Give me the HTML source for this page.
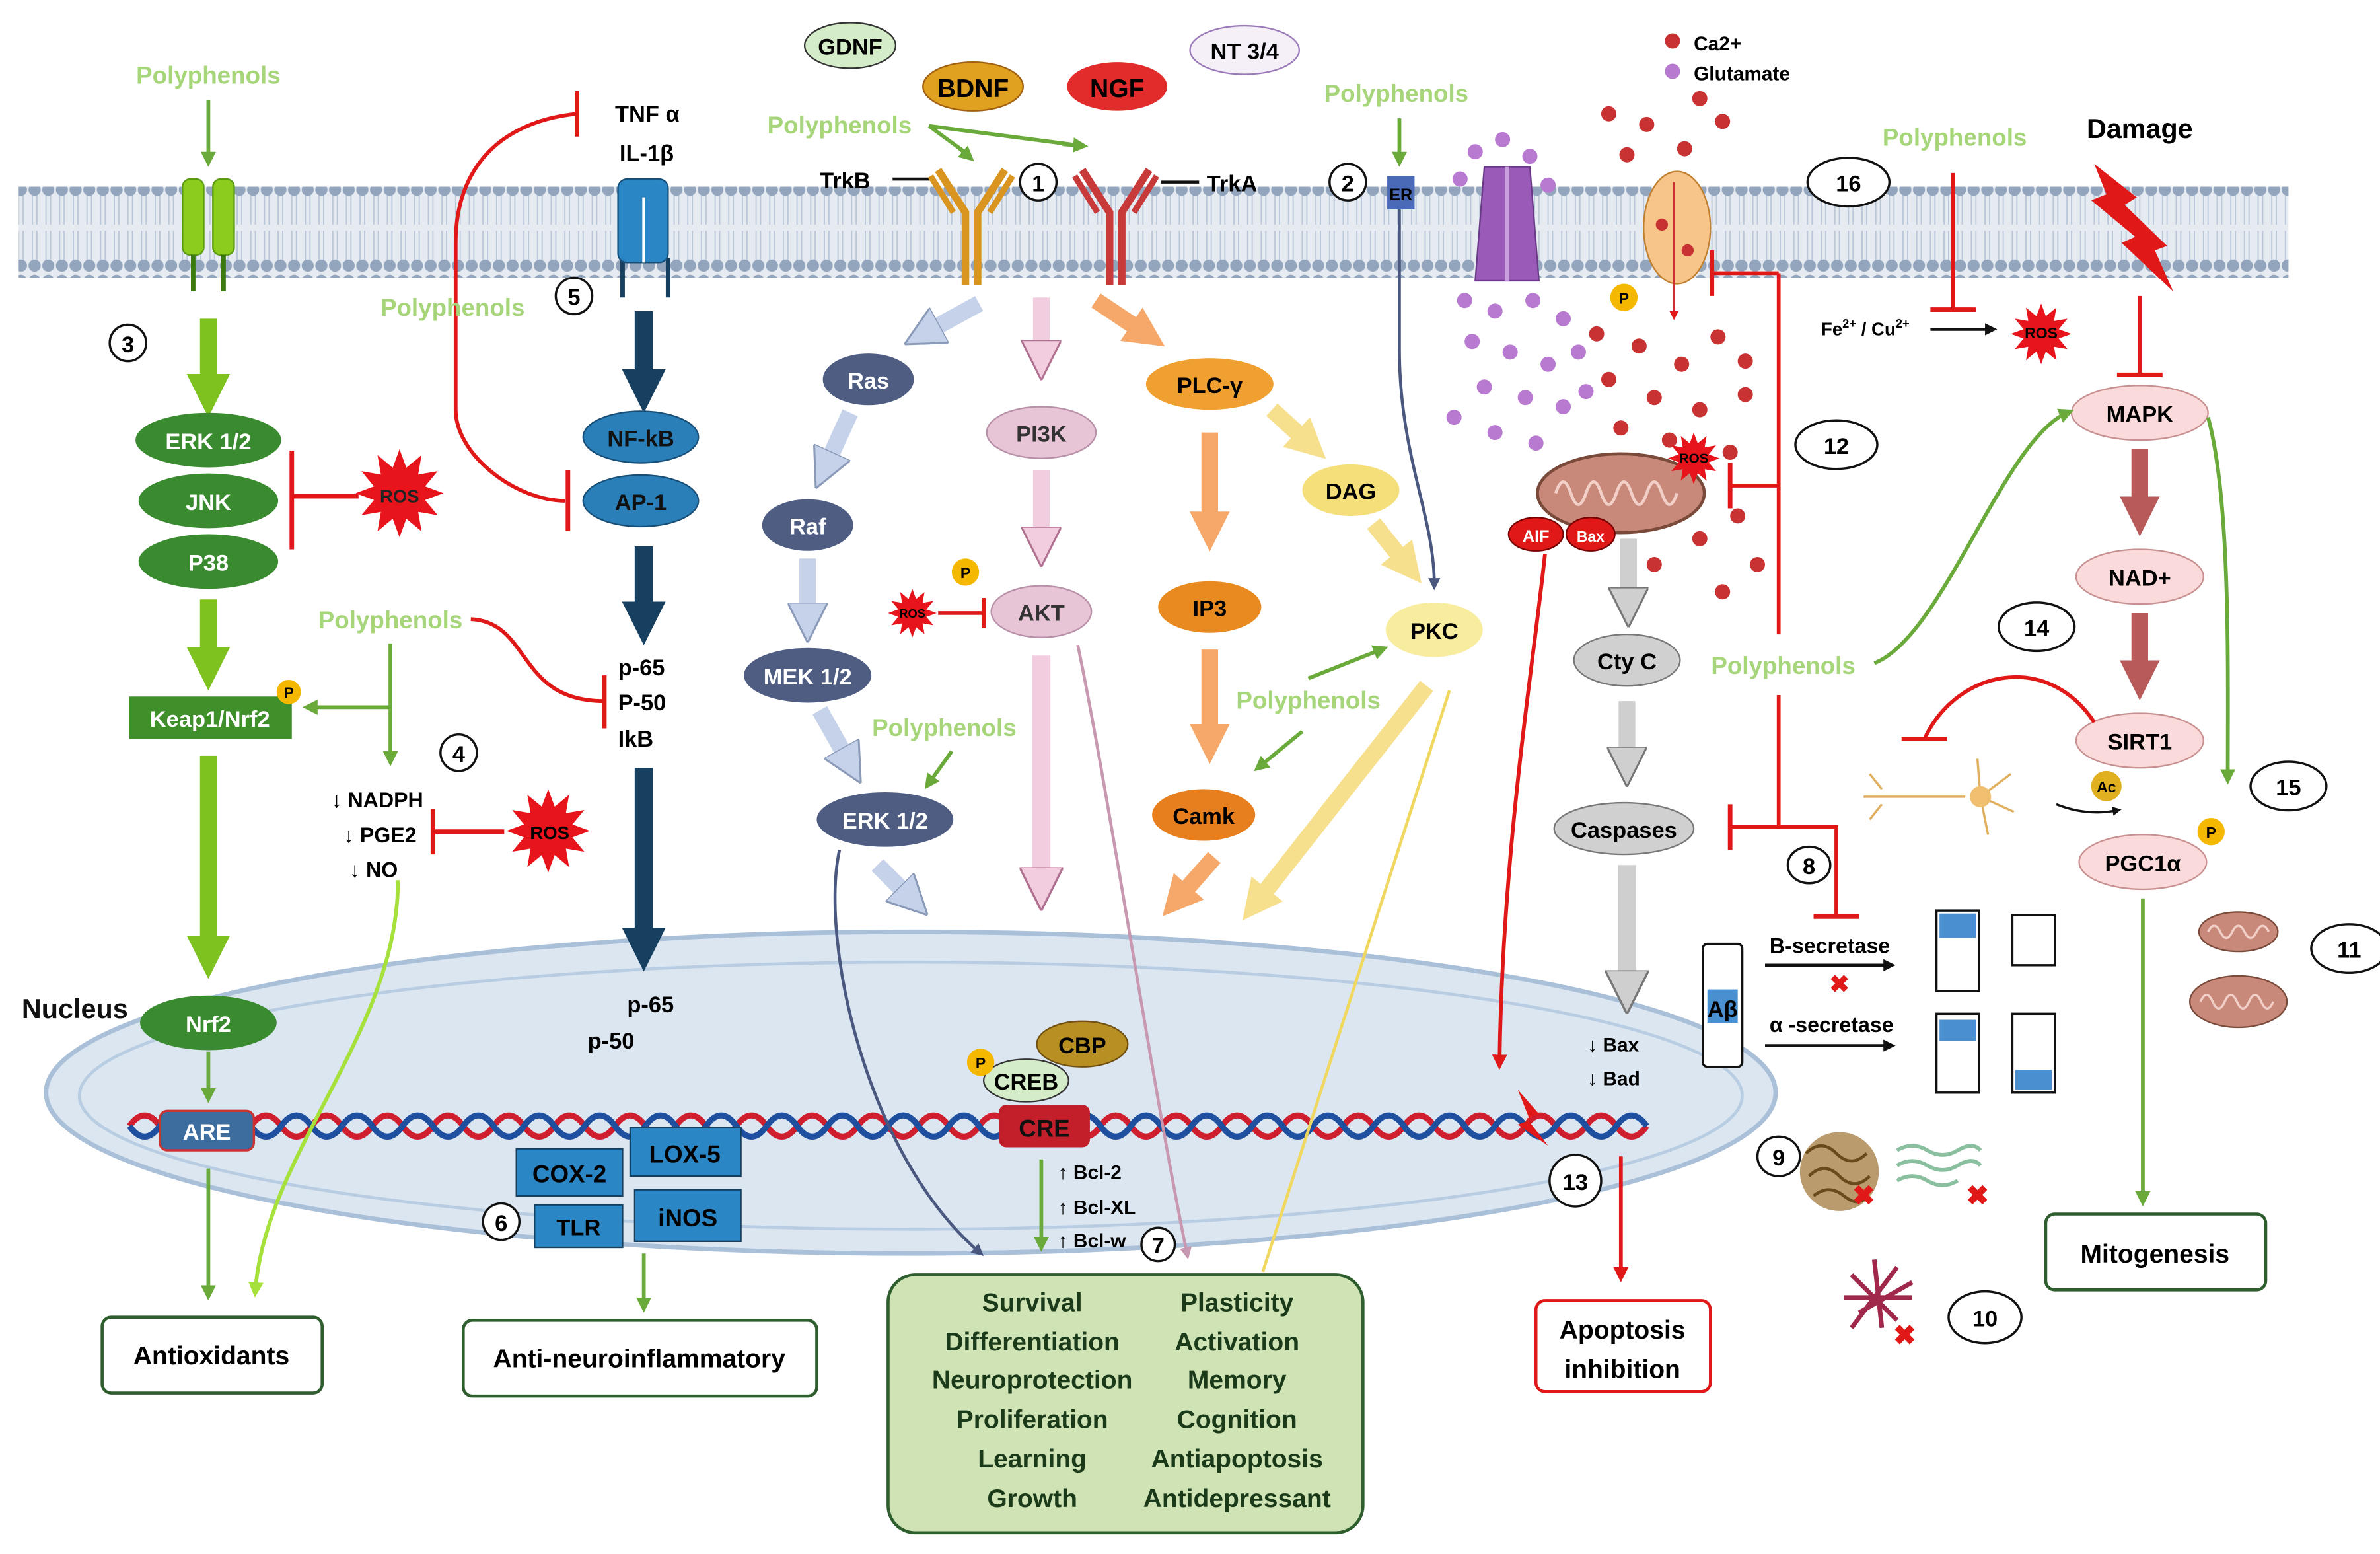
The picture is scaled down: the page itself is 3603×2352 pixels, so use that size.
<!DOCTYPE html>
<html><head><meta charset="utf-8"><style>
html,body{margin:0;padding:0;background:#fff}
svg{display:block}
text{font-family:"Liberation Sans",sans-serif;font-weight:bold}
</style></head><body>
<svg width="3603" height="2352" viewBox="0 0 1568 1024" xmlns="http://www.w3.org/2000/svg">
<defs>
<pattern id="lip" x="0" y="0" width="9" height="60" patternUnits="userSpaceOnUse">
<rect width="9" height="60" fill="#e6ebf2"/>
<path d="M3,5 L3,28 M6,5 L6,28 M3,32 L3,55 M6,32 L6,55" stroke="#b8c6d8" stroke-width="0.8"/>
<circle cx="4.5" cy="5" r="4" fill="#93a5bd"/><circle cx="4.5" cy="55" r="4" fill="#93a5bd"/>
</pattern>
<symbol id="star" viewBox="-1 -1 2 2"><polygon points="1,0 .58,.155 .866,.5 .424,.424 .5,.866 .155,.58 0,1 -.155,.58 -.5,.866 -.424,.424 -.866,.5 -.58,.155 -1,0 -.58,-.155 -.866,-.5 -.424,-.424 -.5,-.866 -.155,-.58 0,-1 .155,-.58 .5,-.866 .424,-.424 .866,-.5 .58,-.155" fill="#e8141c"/></symbol>
<marker id="mG" viewBox="0 0 10 10" refX="3" refY="5" markerWidth="2.6" markerHeight="2.6" orient="auto"><path d="M0,0L10,5L0,10z" fill="#7dc21e"/></marker>
<marker id="mN" viewBox="0 0 10 10" refX="3" refY="5" markerWidth="2.4" markerHeight="2.4" orient="auto"><path d="M0,0L10,5L0,10z" fill="#173f5f"/></marker>
<marker id="mB" viewBox="0 0 10 10" refX="3" refY="5" markerWidth="2.4" markerHeight="2.4" orient="auto"><path d="M0,0L10,5L0,10z" fill="#c5d2ea" stroke="#8a9ab8" stroke-width=".5"/></marker>
<marker id="mP" viewBox="0 0 10 10" refX="3" refY="5" markerWidth="2.4" markerHeight="2.4" orient="auto"><path d="M0,0L10,5L0,10z" fill="#f2cde0" stroke="#b07090" stroke-width=".5"/></marker>
<marker id="mO" viewBox="0 0 10 10" refX="3" refY="5" markerWidth="2.4" markerHeight="2.4" orient="auto"><path d="M0,0L10,5L0,10z" fill="#f5a86a"/></marker>
<marker id="mY" viewBox="0 0 10 10" refX="3" refY="5" markerWidth="2.4" markerHeight="2.4" orient="auto"><path d="M0,0L10,5L0,10z" fill="#f6e08e"/></marker>
<marker id="mS" viewBox="0 0 10 10" refX="3" refY="5" markerWidth="2.4" markerHeight="2.4" orient="auto"><path d="M0,0L10,5L0,10z" fill="#cfcfcf" stroke="#777" stroke-width=".5"/></marker>
<marker id="mR" viewBox="0 0 10 10" refX="3" refY="5" markerWidth="2.4" markerHeight="2.4" orient="auto"><path d="M0,0L10,5L0,10z" fill="#b85a5a"/></marker>
<marker id="tg" viewBox="0 0 10 10" refX="5" refY="5" markerWidth="4" markerHeight="4" orient="auto"><path d="M0,0L10,5L0,10z" fill="#6aaa3a"/></marker>
<marker id="tr" viewBox="0 0 10 10" refX="5" refY="5" markerWidth="4" markerHeight="4" orient="auto"><path d="M0,0L10,5L0,10z" fill="#e01818"/></marker>
<marker id="tk" viewBox="0 0 10 10" refX="5" refY="5" markerWidth="4" markerHeight="4" orient="auto"><path d="M0,0L10,5L0,10z" fill="#111"/></marker>
<marker id="tl" viewBox="0 0 10 10" refX="5" refY="5" markerWidth="4" markerHeight="4" orient="auto"><path d="M0,0L10,5L0,10z" fill="#a6e03a"/></marker>
<marker id="tn" viewBox="0 0 10 10" refX="5" refY="5" markerWidth="4" markerHeight="4" orient="auto"><path d="M0,0L10,5L0,10z" fill="#4a5880"/></marker>
<marker id="tp" viewBox="0 0 10 10" refX="5" refY="5" markerWidth="4" markerHeight="4" orient="auto"><path d="M0,0L10,5L0,10z" fill="#c898b0"/></marker>
<marker id="ty" viewBox="0 0 10 10" refX="5" refY="5" markerWidth="4" markerHeight="4" orient="auto"><path d="M0,0L10,5L0,10z" fill="#f0d860"/></marker>
</defs>

<rect x="12" y="123" width="1496" height="60" fill="url(#lip)"/>

<ellipse cx="600" cy="720" rx="570" ry="106" fill="#dbe6f1" stroke="#a9c0d8" stroke-width="3"/>
<ellipse cx="600" cy="722" rx="548" ry="88" fill="none" stroke="#b8cde2" stroke-width="2"/>
<text x="14" y="671" font-size="18" fill="#111">Nucleus</text>

<path d="M85,742 q10,-14 20,0 t20,0 t20,0 t20,0 t20,0 t20,0 t20,0 t20,0 t20,0 t20,0 t20,0 t20,0 t20,0 t20,0 t20,0 t20,0 t20,0 t20,0 t20,0 t20,0 t20,0 t20,0 t20,0 t20,0 t20,0 t20,0 t20,0 t20,0 t20,0 t20,0 t20,0 t20,0 t20,0 t20,0 t20,0 t20,0 t20,0 t20,0 t20,0 t20,0 t20,0 t20,0 t20,0 t20,0 t20,0 t20,0 t20,0 t20,0 t20,0 t20,0" fill="none" stroke="#cf1f2e" stroke-width="4"/>
<path d="M85,742 q10,14 20,0 t20,0 t20,0 t20,0 t20,0 t20,0 t20,0 t20,0 t20,0 t20,0 t20,0 t20,0 t20,0 t20,0 t20,0 t20,0 t20,0 t20,0 t20,0 t20,0 t20,0 t20,0 t20,0 t20,0 t20,0 t20,0 t20,0 t20,0 t20,0 t20,0 t20,0 t20,0 t20,0 t20,0 t20,0 t20,0 t20,0 t20,0 t20,0 t20,0 t20,0 t20,0 t20,0 t20,0 t20,0 t20,0 t20,0 t20,0 t20,0 t20,0" fill="none" stroke="#1f4f9f" stroke-width="4"/>

<text x="137" y="55" font-size="16" fill="#a6d57a" text-anchor="middle">Polyphenols</text>
<line x1="137" y1="66" x2="137" y2="105" stroke="#6aaa3a" stroke-width="2.5" marker-end="url(#tg)"/>
<rect x="120" y="118" width="14" height="50" rx="5" fill="#8ccc1c" stroke="#5a9a10"/>
<rect x="140" y="118" width="14" height="50" rx="5" fill="#8ccc1c" stroke="#5a9a10"/>
<line x1="127" y1="168" x2="127" y2="192" stroke="#3a7a10" stroke-width="3"/><line x1="147" y1="168" x2="147" y2="192" stroke="#3a7a10" stroke-width="3"/>
<circle cx="84" cy="226" r="12" fill="#fff" stroke="#111" stroke-width="1.5"/><text x="84" y="232" font-size="15" text-anchor="middle">3</text>
<line x1="137" y1="210" x2="137" y2="255" stroke="#7dc21e" stroke-width="11" marker-end="url(#mG)"/>
<ellipse cx="137" cy="290" rx="48" ry="18" fill="#3a8a30"/><text x="137" y="296" font-size="15" fill="#fff" text-anchor="middle">ERK 1/2</text>
<ellipse cx="137" cy="330" rx="46" ry="18" fill="#3a8a30"/><text x="137" y="336" font-size="15" fill="#fff" text-anchor="middle">JNK</text>
<ellipse cx="137" cy="370" rx="46" ry="18" fill="#3a8a30"/><text x="137" y="376" font-size="15" fill="#fff" text-anchor="middle">P38</text>
<use href="#star" x="232" y="296" width="62" height="58"/><text x="263" y="331" font-size="12" fill="#222" text-anchor="middle">ROS</text>
<line x1="192" y1="327" x2="236" y2="327" stroke="#e01818" stroke-width="3"/><line x1="192" y1="297" x2="192" y2="362" stroke="#e01818" stroke-width="3"/>
<line x1="137" y1="395" x2="137" y2="435" stroke="#7dc21e" stroke-width="11" marker-end="url(#mG)"/>
<rect x="85" y="459" width="107" height="28" fill="#3f8f2a"/><text x="138" y="479" font-size="15" fill="#fff" text-anchor="middle">Keap1/Nrf2</text>
<circle cx="190" cy="456" r="8" fill="#f5b800"/><text x="190" y="460" font-size="10" text-anchor="middle">P</text>
<line x1="137" y1="498" x2="137" y2="625" stroke="#7dc21e" stroke-width="11" marker-end="url(#mG)"/>
<ellipse cx="137" cy="674" rx="45" ry="18" fill="#3a8a30"/><text x="137" y="680" font-size="15" fill="#fff" text-anchor="middle">Nrf2</text>
<line x1="137" y1="693" x2="137" y2="722" stroke="#6aaa3a" stroke-width="2.5" marker-end="url(#tg)"/>
<rect x="105" y="732" width="62" height="26" rx="5" fill="#3d6c9e" stroke="#c33" stroke-width="1.5"/><text x="136" y="751" font-size="15" fill="#fff" text-anchor="middle">ARE</text>
<line x1="137" y1="770" x2="137" y2="852" stroke="#6aaa3a" stroke-width="2.5" marker-end="url(#tg)"/>
<rect x="67" y="868" width="145" height="50" rx="6" fill="#fff" stroke="#2e5e2e" stroke-width="2"/><text x="139" y="899" font-size="17" text-anchor="middle">Antioxidants</text>
<path d="M262,580 C262,680 175,760 168,850" fill="none" stroke="#a6e03a" stroke-width="2.5" marker-end="url(#tl)"/>

<text x="257" y="414" font-size="16" fill="#a6d57a" text-anchor="middle">Polyphenols</text>
<line x1="257" y1="424" x2="257" y2="500" stroke="#6aaa3a" stroke-width="2.5" marker-end="url(#tg)"/>
<line x1="257" y1="466" x2="204" y2="466" stroke="#6aaa3a" stroke-width="2.5" marker-end="url(#tg)"/>
<circle cx="302" cy="496" r="12" fill="#fff" stroke="#111" stroke-width="1.5"/><text x="302" y="502" font-size="15" text-anchor="middle">4</text>
<text x="218" y="532" font-size="14">↓ NADPH</text>
<text x="226" y="555" font-size="14">↓ PGE2</text>
<text x="230" y="578" font-size="14">↓ NO</text>
<line x1="285" y1="548" x2="332" y2="548" stroke="#e01818" stroke-width="3"/><line x1="285" y1="533" x2="285" y2="563" stroke="#e01818" stroke-width="3"/>
<use href="#star" x="330" y="520" width="62" height="55"/><text x="362" y="553" font-size="12" text-anchor="middle">ROS</text>

<text x="405" y="80" font-size="15">TNF α</text>
<text x="408" y="106" font-size="15">IL-1β</text>
<line x1="380" y1="60" x2="380" y2="90" stroke="#e01818" stroke-width="3"/>
<path d="M380,75 C330,80 300,110 300,160 L300,270 C300,300 340,330 372,330" fill="none" stroke="#e01818" stroke-width="2.5"/>
<line x1="374" y1="310" x2="374" y2="350" stroke="#e01818" stroke-width="3"/>
<text x="298" y="208" font-size="16" fill="#a6d57a" text-anchor="middle">Polyphenols</text>
<line x1="410" y1="170" x2="410" y2="196" stroke="#174060" stroke-width="3"/><line x1="440" y1="170" x2="440" y2="196" stroke="#174060" stroke-width="3"/>
<rect x="407" y="118" width="33" height="55" rx="6" fill="#2a86c4" stroke="#16507a"/><line x1="424" y1="130" x2="424" y2="173" stroke="#fff" stroke-width="2"/>
<circle cx="378" cy="195" r="12" fill="#fff" stroke="#111" stroke-width="1.5"/><text x="378" y="201" font-size="15" text-anchor="middle">5</text>
<line x1="424" y1="205" x2="424" y2="252" stroke="#173f5f" stroke-width="12" marker-end="url(#mN)"/>
<ellipse cx="422" cy="288" rx="38" ry="17" fill="#2a7fb8" stroke="#184f78"/><text x="422" y="294" font-size="15" fill="#111" text-anchor="middle">NF-kB</text>
<ellipse cx="422" cy="330" rx="38" ry="17" fill="#2a7fb8" stroke="#184f78"/><text x="422" y="336" font-size="15" fill="#111" text-anchor="middle">AP-1</text>
<line x1="424" y1="360" x2="424" y2="405" stroke="#173f5f" stroke-width="12" marker-end="url(#mN)"/>
<text x="407" y="445" font-size="15">p-65</text><text x="407" y="468" font-size="15">P-50</text><text x="407" y="492" font-size="15">IkB</text>
<path d="M310,408 C350,410 340,462 398,462" fill="none" stroke="#e01818" stroke-width="2.5"/>
<line x1="398" y1="445" x2="398" y2="480" stroke="#e01818" stroke-width="3"/>
<line x1="424" y1="506" x2="424" y2="620" stroke="#173f5f" stroke-width="12" marker-end="url(#mN)"/>
<text x="413" y="667" font-size="15">p-65</text><text x="387" y="691" font-size="15">p-50</text>
<rect x="340" y="757" width="70" height="31" fill="#2a86c4" stroke="#174060"/><text x="375" y="779" font-size="16" text-anchor="middle">COX-2</text>
<rect x="415" y="743" width="73" height="32" fill="#2a86c4" stroke="#174060"/><text x="451" y="766" font-size="16" text-anchor="middle">LOX-5</text>
<rect x="352" y="794" width="58" height="28" fill="#2a86c4" stroke="#174060"/><text x="381" y="814" font-size="15" text-anchor="middle">TLR</text>
<rect x="418" y="784" width="70" height="34" fill="#2a86c4" stroke="#174060"/><text x="453" y="808" font-size="16" text-anchor="middle">iNOS</text>
<circle cx="330" cy="805" r="12" fill="#fff" stroke="#111" stroke-width="1.5"/><text x="330" y="811" font-size="15" text-anchor="middle">6</text>
<line x1="424" y1="826" x2="424" y2="860" stroke="#6aaa3a" stroke-width="2.5" marker-end="url(#tg)"/>
<rect x="305" y="870" width="233" height="50" rx="6" fill="#fff" stroke="#2e5e2e" stroke-width="2"/><text x="421" y="901" font-size="17" text-anchor="middle">Anti-neuroinflammatory</text>

<ellipse cx="560" cy="30" rx="30" ry="15" fill="#d5ecc8" stroke="#333"/><text x="560" y="36" font-size="15" text-anchor="middle">GDNF</text>
<ellipse cx="641" cy="57" rx="33" ry="16" fill="#e0a020" stroke="#a06010"/><text x="641" y="64" font-size="17" text-anchor="middle">BDNF</text>
<ellipse cx="736" cy="57" rx="33" ry="16" fill="#e22b2b"/><text x="736" y="64" font-size="17" text-anchor="middle">NGF</text>
<ellipse cx="820" cy="33" rx="36" ry="16" fill="#f5eff8" stroke="#9a7ab8"/><text x="820" y="39" font-size="15" text-anchor="middle">NT 3/4</text>
<text x="553" y="88" font-size="16" fill="#a6d57a" text-anchor="middle">Polyphenols</text>
<path d="M612,83 L638,102 M612,83 L712,96" fill="none" stroke="#6aaa3a" stroke-width="2.5"/>
<line x1="630" y1="96" x2="638" y2="103" stroke="#6aaa3a" stroke-width="2.5" marker-end="url(#tg)"/>
<line x1="700" y1="95" x2="712" y2="96" stroke="#6aaa3a" stroke-width="2.5" marker-end="url(#tg)"/>
<text x="540" y="124" font-size="15">TrkB</text><line x1="588" y1="118" x2="614" y2="118" stroke="#111" stroke-width="2"/>
<path d="M618,112 L636,140 V188 M662,112 L644,140 V188" fill="none" stroke="#d9951f" stroke-width="5"/>
<path d="M613,116 L628,140 M667,116 L652,140" stroke="#d9951f" stroke-width="4"/>
<circle cx="684" cy="120" r="12" fill="#fff" stroke="#111" stroke-width="1.5"/><text x="684" y="126" font-size="15" text-anchor="middle">1</text>
<path d="M713,112 L731,140 V188 M757,112 L739,140 V188" fill="none" stroke="#c83a3a" stroke-width="5"/>
<path d="M708,116 L723,140 M762,116 L747,140" stroke="#c83a3a" stroke-width="4"/>
<text x="795" y="126" font-size="15">TrkA</text><line x1="765" y1="120" x2="790" y2="120" stroke="#111" stroke-width="2"/>

<line x1="645" y1="200" x2="612" y2="218" stroke="#c5d2ea" stroke-width="11" marker-end="url(#mB)"/>
<ellipse cx="572" cy="250" rx="30" ry="17" fill="#4f5d82"/><text x="572" y="256" font-size="15" fill="#fff" text-anchor="middle">Ras</text>
<line x1="560" y1="272" x2="545" y2="305" stroke="#c5d2ea" stroke-width="11" marker-end="url(#mB)"/>
<ellipse cx="532" cy="346" rx="30" ry="17" fill="#4f5d82"/><text x="532" y="352" font-size="15" fill="#fff" text-anchor="middle">Raf</text>
<line x1="532" y1="368" x2="532" y2="405" stroke="#c5d2ea" stroke-width="11" marker-end="url(#mB)"/>
<ellipse cx="532" cy="445" rx="42" ry="18" fill="#4f5d82"/><text x="532" y="451" font-size="15" fill="#fff" text-anchor="middle">MEK 1/2</text>
<line x1="540" y1="468" x2="558" y2="500" stroke="#c5d2ea" stroke-width="11" marker-end="url(#mB)"/>
<ellipse cx="583" cy="540" rx="45" ry="18" fill="#4f5d82"/><text x="583" y="546" font-size="15" fill="#fff" text-anchor="middle">ERK 1/2</text>
<text x="622" y="485" font-size="16" fill="#a6d57a" text-anchor="middle">Polyphenols</text>
<line x1="627" y1="495" x2="612" y2="516" stroke="#6aaa3a" stroke-width="2.5" marker-end="url(#tg)"/>
<line x1="578" y1="570" x2="598" y2="590" stroke="#c5d2ea" stroke-width="11" marker-end="url(#mB)"/>
<path d="M553,560 C540,620 570,760 645,825" fill="none" stroke="#4a5880" stroke-width="2" marker-end="url(#tn)"/>

<line x1="686" y1="196" x2="686" y2="232" stroke="#f2cde0" stroke-width="11" marker-end="url(#mP)"/>
<ellipse cx="686" cy="285" rx="36" ry="17" fill="#e7c4d6" stroke="#b890a8"/><text x="686" y="291" font-size="15" fill="#333" text-anchor="middle">PI3K</text>
<line x1="686" y1="310" x2="686" y2="355" stroke="#f2cde0" stroke-width="11" marker-end="url(#mP)"/>
<ellipse cx="686" cy="403" rx="33" ry="17" fill="#e7c4d6" stroke="#b890a8"/><text x="686" y="409" font-size="15" fill="#333" text-anchor="middle">AKT</text>
<circle cx="636" cy="377" r="9" fill="#f5b800"/><text x="636" y="381" font-size="10" text-anchor="middle">P</text>
<use href="#star" x="583" y="388" width="36" height="32"/><text x="601" y="407" font-size="8" text-anchor="middle">ROS</text>
<line x1="618" y1="404" x2="648" y2="404" stroke="#e01818" stroke-width="2.5"/><line x1="648" y1="394" x2="648" y2="414" stroke="#e01818" stroke-width="2.5"/>
<line x1="686" y1="432" x2="686" y2="580" stroke="#f2cde0" stroke-width="12" marker-end="url(#mP)"/>
<path d="M710,425 C730,520 760,720 782,826" fill="none" stroke="#c898b0" stroke-width="2" marker-end="url(#tp)"/>

<line x1="722" y1="198" x2="752" y2="218" stroke="#f5a86a" stroke-width="11" marker-end="url(#mO)"/>
<ellipse cx="797" cy="253" rx="42" ry="17" fill="#f0a030"/><text x="797" y="259" font-size="15" text-anchor="middle">PLC-γ</text>
<line x1="797" y1="285" x2="797" y2="345" stroke="#f5a86a" stroke-width="11" marker-end="url(#mO)"/>
<ellipse cx="797" cy="400" rx="34" ry="17" fill="#e88a20"/><text x="797" y="406" font-size="15" text-anchor="middle">IP3</text>
<line x1="797" y1="428" x2="797" y2="485" stroke="#f5a86a" stroke-width="11" marker-end="url(#mO)"/>
<ellipse cx="793" cy="537" rx="34" ry="17" fill="#e87f1f"/><text x="793" y="543" font-size="15" text-anchor="middle">Camk</text>
<line x1="800" y1="565" x2="778" y2="590" stroke="#f5a86a" stroke-width="11" marker-end="url(#mO)"/>
<line x1="838" y1="270" x2="860" y2="290" stroke="#f6e08e" stroke-width="11" marker-end="url(#mY)"/>
<ellipse cx="890" cy="323" rx="32" ry="17" fill="#f5df7a"/><text x="890" y="329" font-size="15" text-anchor="middle">DAG</text>
<line x1="905" y1="345" x2="925" y2="370" stroke="#f6e08e" stroke-width="11" marker-end="url(#mY)"/>
<ellipse cx="945" cy="415" rx="32" ry="18" fill="#f8ec9e"/><text x="945" y="421" font-size="15" text-anchor="middle">PKC</text>
<text x="862" y="467" font-size="16" fill="#a6d57a" text-anchor="middle">Polyphenols</text>
<line x1="862" y1="447" x2="910" y2="428" stroke="#6aaa3a" stroke-width="2.5" marker-end="url(#tg)"/>
<line x1="858" y1="482" x2="830" y2="505" stroke="#6aaa3a" stroke-width="2.5" marker-end="url(#tg)"/>
<line x1="940" y1="452" x2="830" y2="592" stroke="#f6e08e" stroke-width="11" marker-end="url(#mY)"/>
<line x1="955" y1="455" x2="832" y2="838" stroke="#f0d860" stroke-width="2"/>
<circle cx="888" cy="120" r="12" fill="#fff" stroke="#111" stroke-width="1.5"/><text x="888" y="126" font-size="15" text-anchor="middle">2</text>
<text x="920" y="67" font-size="16" fill="#a6d57a" text-anchor="middle">Polyphenols</text>
<line x1="922" y1="78" x2="922" y2="105" stroke="#6aaa3a" stroke-width="2.5" marker-end="url(#tg)"/>
<rect x="914" y="116" width="18" height="22" fill="#4a6ab8"/><text x="923" y="132" font-size="11" text-anchor="middle">ER</text>
<path d="M922,138 L922,230 C922,300 945,340 945,385" fill="none" stroke="#4a5880" stroke-width="2" marker-end="url(#tn)"/>

<ellipse cx="713" cy="688" rx="30" ry="15" fill="#b88f22" stroke="#705010"/><text x="713" y="694" font-size="15" text-anchor="middle">CBP</text>
<ellipse cx="676" cy="712" rx="28" ry="14" fill="#d5ecc8" stroke="#333"/><text x="676" y="718" font-size="15" text-anchor="middle">CREB</text>
<circle cx="646" cy="700" r="9" fill="#f5b800"/><text x="646" y="704" font-size="10" text-anchor="middle">P</text>
<rect x="658" y="728" width="60" height="28" rx="5" fill="#c21f2b"/><text x="688" y="749" font-size="16" fill="#111" text-anchor="middle">CRE</text>
<line x1="686" y1="764" x2="686" y2="820" stroke="#6aaa3a" stroke-width="2.5" marker-end="url(#tg)"/>
<text x="697" y="777" font-size="13">↑ Bcl-2</text><text x="697" y="800" font-size="13">↑ Bcl-XL</text><text x="697" y="822" font-size="13">↑ Bcl-w</text>
<circle cx="763" cy="820" r="11" fill="#fff" stroke="#111" stroke-width="1.5"/><text x="763" y="826" font-size="15" text-anchor="middle">7</text>
<rect x="585" y="840" width="313" height="170" rx="18" fill="#cfe3b5" stroke="#2e5e2e" stroke-width="2"/>
<g font-size="17" text-anchor="middle" fill="#1a3a1a">
<text x="680" y="864">Survival</text><text x="680" y="890">Differentiation</text><text x="680" y="915">Neuroprotection</text><text x="680" y="941">Proliferation</text><text x="680" y="967">Learning</text><text x="680" y="993">Growth</text>
<text x="815" y="864">Plasticity</text><text x="815" y="890">Activation</text><text x="815" y="915">Memory</text><text x="815" y="941">Cognition</text><text x="815" y="967">Antiapoptosis</text><text x="815" y="993">Antidepressant</text>
</g>

<circle cx="1102" cy="27" r="5" fill="#c83232"/><text x="1116" y="33" font-size="13">Ca2+</text>
<circle cx="1102" cy="47" r="5" fill="#b77ad0"/><text x="1116" y="53" font-size="13">Glutamate</text>
<path d="M978,110 h30 l6,75 h-42z" fill="#9a5ab8" stroke="#6a3a88"/><line x1="993" y1="110" x2="993" y2="185" stroke="#c9a0dd" stroke-width="3"/>
<g fill="#b77ad0">
<circle cx="972" cy="100" r="5"/><circle cx="1008" cy="103" r="5"/><circle cx="990" cy="92" r="5"/><circle cx="1020" cy="122" r="5"/><circle cx="962" cy="118" r="5"/>
<circle cx="965" cy="198" r="5"/><circle cx="985" cy="205" r="5"/><circle cx="1010" cy="198" r="5"/><circle cx="1030" cy="210" r="5"/><circle cx="970" cy="225" r="5"/><circle cx="995" cy="232" r="5"/><circle cx="1020" cy="240" r="5"/><circle cx="1040" cy="232" r="5"/><circle cx="978" cy="255" r="5"/><circle cx="1005" cy="262" r="5"/><circle cx="1030" cy="268" r="5"/><circle cx="985" cy="285" r="5"/><circle cx="1012" cy="292" r="5"/><circle cx="1045" cy="258" r="5"/><circle cx="958" cy="275" r="5"/>
</g>
<ellipse cx="1105" cy="150" rx="22" ry="37" fill="#f7c58a" stroke="#c08030"/>
<line x1="1103" y1="120" x2="1103" y2="208" stroke="#c83232" stroke-width="1.5" marker-end="url(#tr)"/>
<circle cx="1070" cy="196" r="9" fill="#f5b800"/><text x="1070" y="200" font-size="10" text-anchor="middle">P</text>
<g fill="#c83232">
<circle cx="1060" cy="75" r="5"/><circle cx="1085" cy="82" r="5"/><circle cx="1110" cy="98" r="5"/><circle cx="1135" cy="80" r="5"/><circle cx="1072" cy="102" r="5"/><circle cx="1120" cy="65" r="5"/><circle cx="1095" cy="148" r="4"/><circle cx="1112" cy="165" r="4"/>
<circle cx="1052" cy="220" r="5"/><circle cx="1080" cy="228" r="5"/><circle cx="1108" cy="240" r="5"/><circle cx="1132" cy="222" r="5"/><circle cx="1060" cy="250" r="5"/><circle cx="1090" cy="262" r="5"/><circle cx="1120" cy="270" r="5"/><circle cx="1150" cy="260" r="5"/><circle cx="1068" cy="282" r="5"/><circle cx="1100" cy="290" r="5"/><circle cx="1140" cy="298" r="5"/><circle cx="1145" cy="340" r="5"/><circle cx="1120" cy="355" r="5"/><circle cx="1158" cy="372" r="5"/><circle cx="1135" cy="390" r="5"/><circle cx="1090" cy="372" r="5"/><circle cx="1150" cy="238" r="5"/>
</g>
<ellipse cx="1068" cy="325" rx="55" ry="26" fill="#c8887a" stroke="#7a4a3a" stroke-width="2"/>
<path d="M1025,325 q5,-15 10,0 t10,0 t10,0 t10,0 t10,0 t10,0 t10,0 t10,0" fill="none" stroke="#f2d0c8" stroke-width="2"/>
<use href="#star" x="1095" y="285" width="42" height="34"/><text x="1116" y="305" font-size="9" text-anchor="middle">ROS</text>
<ellipse cx="1012" cy="352" rx="18" ry="11" fill="#e01818" stroke="#700"/><text x="1012" y="357" font-size="11" fill="#fff" text-anchor="middle">AIF</text>
<ellipse cx="1048" cy="352" rx="16" ry="11" fill="#e01818" stroke="#700"/><text x="1048" y="357" font-size="10" fill="#fff" text-anchor="middle">Bax</text>
<path d="M1018,365 C1010,440 990,560 988,700" fill="none" stroke="#e01818" stroke-width="2.5" marker-end="url(#tr)"/>
<line x1="1073" y1="355" x2="1073" y2="395" stroke="#cfcfcf" stroke-width="11" marker-end="url(#mS)"/>
<ellipse cx="1072" cy="435" rx="35" ry="17" fill="#d0d0d0" stroke="#777"/><text x="1072" y="441" font-size="15" text-anchor="middle">Cty C</text>
<line x1="1072" y1="462" x2="1072" y2="500" stroke="#cfcfcf" stroke-width="11" marker-end="url(#mS)"/>
<ellipse cx="1070" cy="546" rx="46" ry="17" fill="#d0d0d0" stroke="#777"/><text x="1070" y="552" font-size="15" text-anchor="middle">Caspases</text>
<line x1="1072" y1="570" x2="1072" y2="648" stroke="#cfcfcf" stroke-width="12" marker-end="url(#mS)"/>
<text x="1046" y="693" font-size="13">↓ Bax</text><text x="1046" y="715" font-size="13">↓ Bad</text>
<path d="M1000,718 l14,16 l-8,3 l14,18 l-20,-14 l8,-3z" fill="#e01818"/>
<circle cx="1038" cy="778" r="17" fill="#fff" stroke="#111" stroke-width="1.5"/><text x="1038" y="784" font-size="15" text-anchor="middle">13</text>
<line x1="1068" y1="762" x2="1068" y2="840" stroke="#e01818" stroke-width="2.5" marker-end="url(#tr)"/>
<rect x="1012" y="857" width="115" height="60" rx="6" fill="#fff" stroke="#e01818" stroke-width="2"/>
<text x="1069" y="882" font-size="17" text-anchor="middle">Apoptosis</text><text x="1069" y="908" font-size="17" text-anchor="middle">inhibition</text>

<path d="M1172,180 L1172,418 M1172,458 L1172,545 M1128,180 L1172,180 M1140,320 L1172,320 M1140,545 L1210,545 L1210,603" fill="none" stroke="#e01818" stroke-width="2.5"/>
<line x1="1128" y1="165" x2="1128" y2="195" stroke="#e01818" stroke-width="3"/>
<line x1="1140" y1="305" x2="1140" y2="335" stroke="#e01818" stroke-width="3"/>
<line x1="1140" y1="530" x2="1140" y2="560" stroke="#e01818" stroke-width="3"/>
<line x1="1195" y1="604" x2="1225" y2="604" stroke="#e01818" stroke-width="3"/>
<text x="1175" y="444" font-size="16" fill="#a6d57a" text-anchor="middle">Polyphenols</text>
<ellipse cx="1210" cy="293" rx="27" ry="16" fill="#fff" stroke="#111" stroke-width="1.5"/><text x="1210" y="299" font-size="15" text-anchor="middle">12</text>
<ellipse cx="1192" cy="570" rx="14" ry="12" fill="#fff" stroke="#111" stroke-width="1.5"/><text x="1192" y="576" font-size="15" text-anchor="middle">8</text>

<rect x="1122" y="622" width="26" height="81" rx="3" fill="#fff" stroke="#111" stroke-width="1.5"/>
<rect x="1125" y="652" width="20" height="22" fill="#4a90d0"/><text x="1135" y="670" font-size="15" text-anchor="middle">Aβ</text>
<text x="1166" y="628" font-size="14">B-secretase</text>
<line x1="1163" y1="636" x2="1245" y2="636" stroke="#111" stroke-width="2" marker-end="url(#tk)"/>
<text x="1212" y="654" font-size="16" fill="#e01818" text-anchor="middle">✖</text>
<text x="1166" y="680" font-size="14">α -secretase</text>
<line x1="1163" y1="689" x2="1245" y2="689" stroke="#111" stroke-width="2" marker-end="url(#tk)"/>
<rect x="1276" y="600" width="28" height="53" fill="#fff" stroke="#111" stroke-width="1.5"/><rect x="1278" y="602" width="24" height="16" fill="#4a90d0"/>
<rect x="1326" y="603" width="28" height="33" fill="#fff" stroke="#111" stroke-width="1.5"/>
<rect x="1276" y="668" width="28" height="52" fill="#fff" stroke="#111" stroke-width="1.5"/><rect x="1278" y="672" width="24" height="14" fill="#4a90d0"/>
<rect x="1326" y="668" width="28" height="52" fill="#fff" stroke="#111" stroke-width="1.5"/><rect x="1328" y="705" width="24" height="13" fill="#4a90d0"/>
<ellipse cx="1172" cy="762" rx="14" ry="13" fill="#fff" stroke="#111" stroke-width="1.5"/><text x="1172" y="768" font-size="15" text-anchor="middle">9</text>
<ellipse cx="1212" cy="772" rx="26" ry="26" fill="#a8824a" opacity=".8"/>
<path d="M1190,760 q10,-10 20,0 t20,0 M1192,775 q10,-10 20,0 t20,0 M1195,788 q10,-8 20,0 t15,0" fill="none" stroke="#6a4a1a" stroke-width="2"/>
<text x="1228" y="794" font-size="18" fill="#e01818" text-anchor="middle">✖</text>
<path d="M1250,758 q10,-6 20,0 t20,0 t15,0 M1250,768 q10,-6 20,0 t20,0 t15,0 M1250,778 q10,-6 20,0 t20,0" fill="none" stroke="#8ac0a0" stroke-width="2.5"/>
<text x="1303" y="794" font-size="18" fill="#e01818" text-anchor="middle">✖</text>
<path d="M1220,840 l30,30 M1250,835 l-30,40 M1215,855 l45,0 M1235,830 l5,45 M1225,865 l35,-20" stroke="#a0284a" stroke-width="3"/>
<text x="1255" y="886" font-size="18" fill="#e01818" text-anchor="middle">✖</text>
<ellipse cx="1308" cy="868" rx="24" ry="17" fill="#fff" stroke="#111" stroke-width="1.5"/><text x="1308" y="874" font-size="15" text-anchor="middle">10</text>

<ellipse cx="1218" cy="120" rx="27" ry="16" fill="#fff" stroke="#111" stroke-width="1.5"/><text x="1218" y="126" font-size="15" text-anchor="middle">16</text>
<text x="1288" y="96" font-size="16" fill="#a6d57a" text-anchor="middle">Polyphenols</text>
<line x1="1287" y1="114" x2="1287" y2="204" stroke="#e01818" stroke-width="2.5"/><line x1="1272" y1="204" x2="1302" y2="204" stroke="#e01818" stroke-width="3"/>
<text x="1410" y="91" font-size="18" text-anchor="middle">Damage</text>
<path d="M1380,108 L1408,130 L1400,135 L1428,162 L1420,165 L1432,192 L1398,160 L1407,156 L1378,132 L1388,128z" fill="#e01818"/>
<line x1="1410" y1="195" x2="1410" y2="247" stroke="#e01818" stroke-width="2.5"/><line x1="1395" y1="247" x2="1425" y2="247" stroke="#e01818" stroke-width="3"/>
<text x="1200" y="221" font-size="12">Fe<tspan font-size="8" dy="-5">2+</tspan><tspan dy="5"> / Cu</tspan><tspan font-size="8" dy="-5">2+</tspan></text>
<line x1="1272" y1="217" x2="1312" y2="217" stroke="#111" stroke-width="2" marker-end="url(#tk)"/>
<use href="#star" x="1320" y="200" width="50" height="40"/><text x="1345" y="223" font-size="10" text-anchor="middle">ROS</text>
<ellipse cx="1410" cy="272" rx="45" ry="18" fill="#fadada" stroke="#c89090"/><text x="1410" y="278" font-size="15" text-anchor="middle">MAPK</text>
<line x1="1410" y1="296" x2="1410" y2="335" stroke="#b85a5a" stroke-width="11" marker-end="url(#mR)"/>
<ellipse cx="1410" cy="380" rx="42" ry="18" fill="#fadada" stroke="#c89090"/><text x="1410" y="386" font-size="15" text-anchor="middle">NAD+</text>
<line x1="1410" y1="404" x2="1410" y2="443" stroke="#b85a5a" stroke-width="11" marker-end="url(#mR)"/>
<ellipse cx="1410" cy="488" rx="42" ry="18" fill="#fadada" stroke="#c89090"/><text x="1410" y="494" font-size="15" text-anchor="middle">SIRT1</text>
<circle cx="1388" cy="518" r="10" fill="#e0b020"/><text x="1388" y="522" font-size="10" text-anchor="middle">Ac</text>
<path d="M1355,530 q20,8 40,4" fill="none" stroke="#111" stroke-width="1.5" marker-end="url(#tk)"/>
<ellipse cx="1412" cy="568" rx="42" ry="18" fill="#fadada" stroke="#c89090"/><text x="1412" y="574" font-size="15" text-anchor="middle">PGC1α</text>
<circle cx="1457" cy="548" r="9" fill="#f5b800"/><text x="1457" y="552" font-size="10" text-anchor="middle">P</text>
<ellipse cx="1342" cy="413" rx="25" ry="16" fill="#fff" stroke="#111" stroke-width="1.5"/><text x="1342" y="419" font-size="15" text-anchor="middle">14</text>
<path d="M1380,476 C1350,430 1290,440 1268,487" fill="none" stroke="#e01818" stroke-width="2.5"/><line x1="1253" y1="487" x2="1283" y2="487" stroke="#e01818" stroke-width="3"/>
<path d="M1228,525 L1295,525 M1240,520 l-8,-10 M1240,530 l-8,10 M1305,525 l20,-15 M1305,525 l22,10 M1305,525 l5,25 M1305,525 l-2,-25" stroke="#e0b060" stroke-width="1.5"/>
<circle cx="1305" cy="525" r="7" fill="#f0c070"/>
<path d="M1235,437 C1280,420 1320,290 1362,272" fill="none" stroke="#6aaa3a" stroke-width="2.5" marker-end="url(#tg)"/>
<path d="M1455,275 C1470,330 1468,440 1468,512" fill="none" stroke="#6aaa3a" stroke-width="2.5" marker-end="url(#tg)"/>
<ellipse cx="1508" cy="518" rx="25" ry="16" fill="#fff" stroke="#111" stroke-width="1.5"/><text x="1508" y="524" font-size="15" text-anchor="middle">15</text>
<ellipse cx="1475" cy="614" rx="26" ry="13" fill="#c8887a" stroke="#7a4a3a"/><path d="M1455,614 q4,-8 8,0 t8,0 t8,0 t8,0 t8,0" fill="none" stroke="#f2d0c8" stroke-width="1.5"/>
<ellipse cx="1475" cy="660" rx="32" ry="17" fill="#c8887a" stroke="#7a4a3a"/><path d="M1450,660 q4,-9 8,0 t8,0 t8,0 t8,0 t8,0 t8,0" fill="none" stroke="#f2d0c8" stroke-width="1.5"/>
<ellipse cx="1548" cy="625" rx="25" ry="16" fill="#fff" stroke="#111" stroke-width="1.5"/><text x="1548" y="631" font-size="15" text-anchor="middle">11</text>
<line x1="1412" y1="592" x2="1412" y2="790" stroke="#6aaa3a" stroke-width="2.5" marker-end="url(#tg)"/>
<rect x="1348" y="800" width="145" height="50" rx="6" fill="#fff" stroke="#2e5e2e" stroke-width="2"/><text x="1420" y="832" font-size="17" text-anchor="middle">Mitogenesis</text>
</svg>
</body></html>
